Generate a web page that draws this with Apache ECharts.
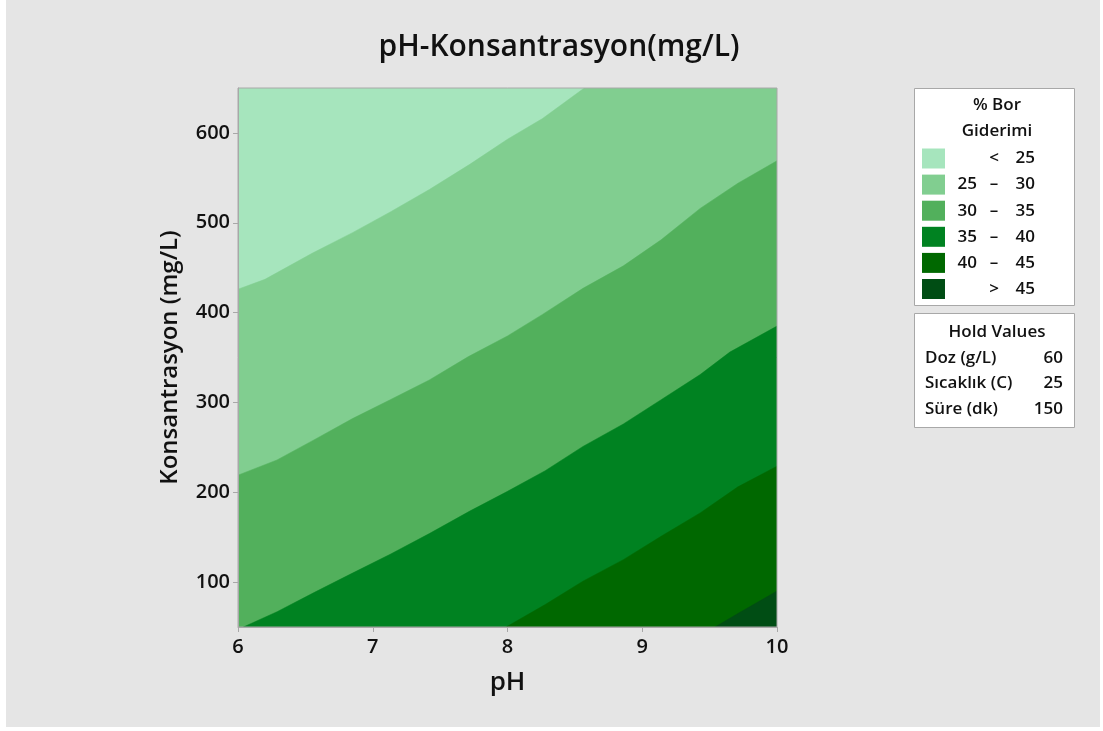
<!DOCTYPE html>
<html lang="en">
<head>
    <meta charset="UTF-8">
    <title>pH-Konsantrasyon(mg/L)</title>
    <script src="https://cdn.jsdelivr.net/npm/echarts@6.0.0/dist/echarts.min.js"></script>
    <style>
        body {
            margin: 0;
            background: #fff;
        }
        #chart {
            width: 1103px;
            height: 731px;
        }
    </style>
</head>
<body>
    <div id="chart"></div>
    <script type="text/javascript">
        // contour boundaries as [pH, Konsantrasyon]
        const edge25 = [[6, 426], [6.2, 437], [6.55, 466], [6.85, 489], [7.13, 512], [7.42, 537], [7.72, 565], [8.0, 593], [8.26, 616], [8.57, 650]];
        const edge30 = [[6, 219], [6.29, 236], [6.56, 258], [6.85, 282], [7.13, 303], [7.42, 325], [7.71, 351], [8.0, 374], [8.26, 398], [8.56, 427], [8.86, 452], [9.14, 481], [9.43, 516], [9.71, 544], [10, 569]];
        const edge35 = [[6.04, 50], [6.29, 67], [6.56, 88], [6.85, 110], [7.13, 131], [7.42, 154], [7.72, 179], [8.0, 201], [8.28, 224], [8.56, 251], [8.86, 276], [9.14, 303], [9.43, 331], [9.65, 356], [10, 385]];
        const edge40 = [[7.99, 50], [8.28, 75], [8.56, 101], [8.86, 125], [9.14, 151], [9.43, 177], [9.71, 206], [10, 229]];
        const edge45 = [[9.54, 50], [9.71, 65], [10, 90]];

        const bandLow = ['', '25', '30', '35', '40', ''];
        const bandSep = ['<', '–', '–', '–', '–', '>'];
        const bandHigh = ['25', '30', '35', '40', '45', '45'];
        const bandColors = ['#a6e5bd', '#81ce90', '#52b05c', '#008221', '#006800', '#004d14'];

        const phTicks = [6, 7, 8, 9, 10];
        const concTicks = [100, 200, 300, 400, 500, 600];

        const holdNames = ['Doz (g/L)', 'Sıcaklık (C)', 'Süre (dk)'];
        const holdValues = [60, 25, 150];

        const phMin = 6, phMax = 10, concMin = 50, concMax = 650;

        // close an edge towards the high-removal (lower right) corner
        function closeRegion(edge) {
            const pts = edge.slice();
            const start = pts[0], end = pts[pts.length - 1];
            if (end[1] >= concMax && end[0] < phMax) pts.push([phMax, concMax]);
            pts.push([phMax, concMin]);
            if (start[0] <= phMin && start[1] > concMin) pts.push([phMin, concMin]);
            return pts;
        }

        const regions = [
            [[phMin, concMin], [phMin, concMax], [phMax, concMax], [phMax, concMin]],
            closeRegion(edge25),
            closeRegion(edge30),
            closeRegion(edge35),
            closeRegion(edge40),
            closeRegion(edge45)
        ];

        const font = "'Open Sans', 'Noto Sans', sans-serif";
        const txt = '#111';
        const lf = `600 17px ${font}`;

        // legend boxes on the right
        const legend = [
            { type: 'rect', shape: { x: 914.5, y: 88.5, width: 160, height: 217 }, style: { fill: '#fff', stroke: '#a8a8a8', lineWidth: 1 } },
            { type: 'text', x: 997, y: 105, style: { text: '% Bor', font: lf, fill: txt, align: 'center', verticalAlign: 'middle' } },
            { type: 'text', x: 997, y: 131, style: { text: 'Giderimi', font: lf, fill: txt, align: 'center', verticalAlign: 'middle' } },
            { type: 'rect', shape: { x: 914.5, y: 313.5, width: 160, height: 114 }, style: { fill: '#fff', stroke: '#a8a8a8', lineWidth: 1 } },
            { type: 'text', x: 997, y: 332, style: { text: 'Hold Values', font: lf, fill: txt, align: 'center', verticalAlign: 'middle' } }
        ];
        bandColors.forEach((c, i) => {
            const cy = 158.5 + i * 26.1;
            legend.push({ type: 'rect', shape: { x: 922, y: cy - 10, width: 23, height: 20 }, style: { fill: c } });
            legend.push({ type: 'text', x: 977, y: cy, style: { text: bandLow[i], font: lf, fill: txt, align: 'right', verticalAlign: 'middle' } });
            legend.push({ type: 'text', x: 994, y: cy, style: { text: bandSep[i], font: lf, fill: txt, align: 'center', verticalAlign: 'middle' } });
            legend.push({ type: 'text', x: 1035, y: cy, style: { text: bandHigh[i], font: lf, fill: txt, align: 'right', verticalAlign: 'middle' } });
        });
        holdNames.forEach((n, i) => {
            const cy = 358 + i * 25.5;
            legend.push({ type: 'text', x: 925, y: cy, style: { text: n, font: lf, fill: txt, align: 'left', verticalAlign: 'middle' } });
            legend.push({ type: 'text', x: 1063, y: cy, style: { text: String(holdValues[i]), font: lf, fill: txt, align: 'right', verticalAlign: 'middle' } });
        });

        const chart = echarts.init(document.getElementById('chart'), null, { renderer: 'canvas' });

        chart.setOption({
            backgroundColor: '#fff',
            animation: false,
            title: {
                text: 'pH-Konsantrasyon(mg/L)',
                left: 554,
                top: 27,
                textAlign: 'center',
                textStyle: { fontFamily: font, fontSize: 30, fontWeight: 600, color: txt }
            },
            graphic: [
                { type: 'rect', left: 6, top: 0, z: -100, shape: { width: 1094, height: 727 }, style: { fill: '#e5e5e5' } },
                { type: 'group', children: legend, z: 100 }
            ],
            grid: {
                left: 238,
                right: 326,
                top: 88,
                bottom: 104,
                show: true,
                borderColor: '#a8a8a8',
                borderWidth: 1,
                backgroundColor: 'transparent',
                z: 10
            },
            xAxis: {
                type: 'value',
                min: phMin,
                max: phMax,
                interval: 1,
                name: 'pH',
                nameLocation: 'middle',
                nameGap: 43,
                nameTextStyle: { fontFamily: font, fontSize: 26, fontWeight: 600, color: txt },
                axisLine: { show: true, lineStyle: { color: '#a8a8a8' } },
                axisTick: { show: true, length: 5, lineStyle: { color: '#a8a8a8' }, customValues: phTicks },
                axisLabel: { fontFamily: font, fontSize: 20, fontWeight: 600, color: txt, margin: 10, customValues: phTicks },
                splitLine: { show: false },
                z: 10
            },
            yAxis: {
                type: 'value',
                min: concMin,
                max: concMax,
                name: 'Konsantrasyon (mg/L)',
                nameLocation: 'middle',
                nameGap: 56,
                nameTextStyle: { fontFamily: font, fontSize: 24, fontWeight: 600, color: txt },
                axisLine: { show: true, lineStyle: { color: '#a8a8a8' } },
                axisTick: { show: true, length: 5, lineStyle: { color: '#a8a8a8' }, customValues: concTicks },
                axisLabel: { fontFamily: font, fontSize: 20, fontWeight: 600, color: txt, margin: 8, customValues: concTicks },
                splitLine: { show: false },
                z: 10
            },
            series: [{
                type: 'custom',
                clip: true,
                silent: true,
                data: regions.map((r, i) => [r[0][0], r[0][1], i]),
                renderItem: (params, api) => {
                    const poly = regions[params.dataIndex];
                    return {
                        type: 'polygon',
                        shape: { points: poly.map(p => api.coord(p)) },
                        style: { fill: bandColors[params.dataIndex], stroke: bandColors[params.dataIndex], lineWidth: 0.5 }
                    };
                }
            }]
        });
    </script>
</body>
</html>
